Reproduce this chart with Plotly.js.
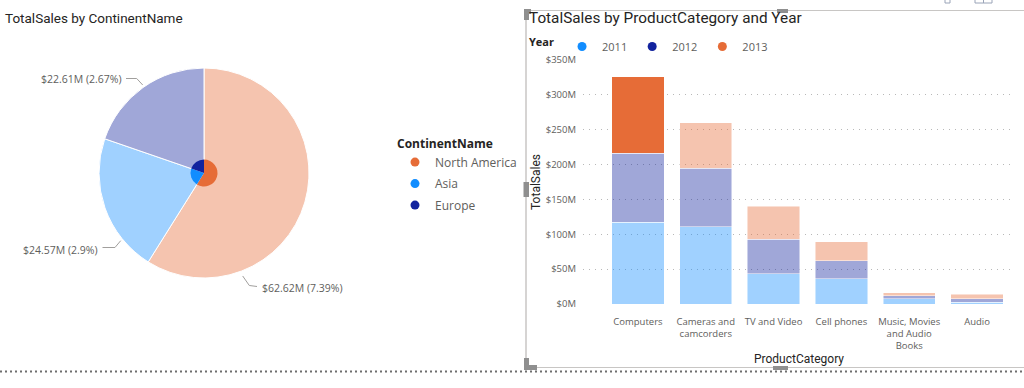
<!DOCTYPE html>
<html><head><meta charset="utf-8">
<script src="https://cdn.plot.ly/plotly-3.0.1.min.js"></script>
<style>html,body{margin:0;padding:0;background:#fff}#chart{width:1024px;height:388px}</style>
</head><body><div id="chart"></div>
<script>
// ---- Pie data (TotalSales by ContinentName) ----
const continents = ['North America', 'Asia', 'Europe'];
const continentTotalSales = [499, 181, 167];          // $M
const continentHighlightSales = [62.62, 24.57, 22.61]; // $M, highlighted portion
const continentHighlightPct = [7.39, 2.9, 2.67];       // % of grand total

// ---- Bar data (TotalSales by ProductCategory and Year) ----
const productCategories = ['Computers', 'Cameras and camcorders', 'TV and Video', 'Cell phones', 'Music, Movies and Audio Books', 'Audio'];
const categoryTickLabels = ['Computers', 'Cameras and<br>camcorders', 'TV and Video', 'Cell phones', 'Music, Movies<br>and Audio<br>Books', 'Audio'];
const years = ['2011', '2012', '2013'];
const sales2011 = [117, 111, 43.5, 36, 7.6, 2.4];
const sales2012 = [99, 84, 49.5, 26, 4.4, 4.8];
const sales2013 = [109.8, 65, 47, 27, 3.8, 7.1];
const yTickVals = [0, 50, 100, 150, 200, 250, 300, 350];
const highlightedYear = '2013';
const highlightedCategory = 'Computers';

// ---- styling ----
const W = 1024, H = 388;
const px = x => x / W;
const py = y => 1 - y / H;
const fullColor = {'2011': '#118DFF', '2012': '#12239E', '2013': '#E66C37'};
const continentColor = {'North America': '#E66C37', 'Asia': '#118DFF', 'Europe': '#12239E'};
function fade(hex, a) {
  const r = parseInt(hex.slice(1, 3), 16), g = parseInt(hex.slice(3, 5), 16), b = parseInt(hex.slice(5, 7), 16);
  return `rgba(${r},${g},${b},${a})`;
}
const FADE = 0.4;
const textFont = "'Segoe UI', 'Open Sans', sans-serif";
const titleFont = "'DIN', Roboto, sans-serif";

// label placement (pixel layout of the pie's outside data labels, in continent order)
const pieLabelPlacement = [
  {leader: [[242.7, 276], [249.3, 285.5], [257, 286.5]], x: 259.5, y: 287.5, anchor: 'left'},
  {leader: [[120.7, 240.7], [115, 247.5], [102.5, 247.5]], x: 99.5, y: 250, anchor: 'right'},
  {leader: [[142.7, 85], [136.7, 78.5], [126, 78.5]], x: 123.5, y: 79.5, anchor: 'right'}
];

const traces = [];

// outer (total) pie, faded
traces.push({
  type: 'pie',
  labels: continents,
  values: continentTotalSales,
  textinfo: 'none',
  sort: false,
  direction: 'clockwise',
  rotation: 0,
  marker: {colors: continents.map(c => fade(continentColor[c], FADE)), line: {color: '#ffffff', width: 1}},
  domain: {x: [px(99), px(309)], y: [py(278), py(68)]},
  showlegend: false,
  hoverinfo: 'label+value'
});
// inner (highlighted) pie
traces.push({
  type: 'pie',
  labels: continents,
  values: continentTotalSales,
  textinfo: 'none',
  sort: false,
  direction: 'clockwise',
  rotation: 0,
  marker: {colors: continents.map(c => continentColor[c]), line: {color: '#ffffff', width: 0}},
  domain: {x: [px(190.5), px(217.5)], y: [py(186.5), py(159.5)]},
  showlegend: false,
  hoverinfo: 'skip'
});

// stacked bars
const yearSeries = {'2011': sales2011, '2012': sales2012, '2013': sales2013};
years.forEach(yr => {
  traces.push({
    type: 'bar',
    name: yr,
    x: productCategories,
    y: yearSeries[yr],
    marker: {
      color: productCategories.map(c => (yr === highlightedYear && c === highlightedCategory) ? fullColor[yr] : fade(fullColor[yr], FADE)),
      line: {color: 'rgba(255,255,255,0.8)', width: 0.6}
    },
    showlegend: false,
    hovertemplate: '%{x}<br>' + yr + ': $%{y}M<extra></extra>'
  });
});
// legend entries (circles) for Year
years.forEach(yr => {
  traces.push({
    type: 'scatter', mode: 'markers', name: yr, x: [null], y: [null],
    marker: {color: fullColor[yr], size: 9, symbol: 'circle'},
    legend: 'legend', showlegend: true, hoverinfo: 'skip'
  });
});
// legend entries (circles) for ContinentName
continents.forEach(c => {
  traces.push({
    type: 'scatter', mode: 'markers', name: c, x: [null], y: [null],
    marker: {color: continentColor[c], size: 9, symbol: 'circle'},
    legend: 'legend2', legendgroup: c, showlegend: true, hoverinfo: 'skip'
  });
});

const handle = '#8F8F8F';
function rect(x0, y0, x1, y1, fill, line) {
  return {type: 'rect', xref: 'paper', yref: 'paper', x0: px(x0), x1: px(x1), y0: py(y1), y1: py(y0),
    fillcolor: fill || 'rgba(0,0,0,0)', line: line || {width: 0}, layer: 'above'};
}
function hline(x0, x1, y, color, width, dash) {
  return {type: 'line', xref: 'paper', yref: 'paper', x0: px(x0), x1: px(x1), y0: py(y), y1: py(y),
    line: {color: color, width: width, dash: dash || 'solid'}, layer: 'above'};
}
function vline(x, y0, y1, color, width) {
  return {type: 'line', xref: 'paper', yref: 'paper', x0: px(x), x1: px(x), y0: py(y0), y1: py(y1),
    line: {color: color, width: width}, layer: 'above'};
}
const shapes = [
  hline(525, 1024, 10.5, '#C8C6C4', 1),
  vline(526, 10, 369, '#C8C6C4', 1.5),
  hline(525, 1024, 367.5, '#C8C6C4', 1),
  hline(0, 1024, 371.5, '#6E6E6E', 2, '2px,3px'),
  rect(524, 9, 531, 14, handle),
  rect(524, 9, 529, 20, handle),
  rect(777, 9, 788, 13, handle),
  rect(523.5, 182, 529, 197, handle),
  rect(773, 366, 788, 370, handle),
  rect(524, 358, 529, 370, handle),
  rect(524, 365, 537, 370, handle),
  rect(945, -2, 950, 3, null, {color: '#9AA4B8', width: 1}),
  rect(975, -2, 992, 3, null, {color: '#9AA4B8', width: 1}),
  vline(983.5, -1, 3, '#9AA4B8', 1)
];
// leader lines of pie labels
pieLabelPlacement.forEach(p => {
  const d = p.leader.map((pt, i) => (i ? 'L' : 'M') + px(pt[0]).toFixed(5) + ',' + py(pt[1]).toFixed(5)).join(' ');
  shapes.push({type: 'path', xref: 'paper', yref: 'paper', path: d, line: {color: '#A19F9D', width: 1}, layer: 'above'});
});

const annotations = [{
  text: 'TotalSales by ProductCategory and Year', xref: 'paper', yref: 'paper',
  x: px(527), xanchor: 'left', y: py(18), yanchor: 'middle', showarrow: false,
  font: {family: titleFont, size: 15.3, color: '#252423'}
}];
continents.forEach((c, i) => {
  const p = pieLabelPlacement[i];
  annotations.push({
    text: `$${continentHighlightSales[i].toFixed(2)}M (${continentHighlightPct[i]}%)`,
    xref: 'paper', yref: 'paper', x: px(p.x), y: py(p.y), xanchor: p.anchor, yanchor: 'middle',
    showarrow: false, font: {family: textFont, size: 10.5, color: '#605E5C'}
  });
});

const layout = {
  width: W, height: H,
  margin: {l: 0, r: 0, t: 0, b: 0},
  paper_bgcolor: '#ffffff',
  plot_bgcolor: 'rgba(0,0,0,0)',
  font: {family: textFont, color: '#605E5C', size: 11},
  title: {text: 'TotalSales by ContinentName', x: px(5), xanchor: 'left', y: py(18), yanchor: 'middle', xref: 'paper', yref: 'paper',
    font: {family: titleFont, size: 13.5, color: '#252423'}},
  barmode: 'stack',
  bargap: 0.23,
  xaxis: {
    domain: [px(583), px(1015)],
    type: 'category',
    categoryorder: 'array', categoryarray: productCategories,
    tickmode: 'array', tickvals: productCategories, ticktext: categoryTickLabels,
    range: [-0.81, 5.56],
    showgrid: false, zeroline: false, showline: false, ticks: '',
    tickfont: {family: textFont, size: 9.5, color: '#605E5C'},
    ticklabelstandoff: 10,
    title: {text: 'ProductCategory', font: {family: titleFont, size: 12, color: '#252423'}, standoff: 3},
    fixedrange: true
  },
  yaxis: {
    domain: [py(304), py(60)],
    range: [0, 350],
    tickmode: 'array', tickvals: yTickVals, ticktext: yTickVals.map(v => '$' + v + 'M'),
    showgrid: true, griddash: '1px,5px', gridcolor: '#B8B8B8', gridwidth: 1,
    zeroline: false, showline: false, ticks: '',
    tickfont: {family: textFont, size: 9.5, color: '#605E5C'},
    ticklabelstandoff: 6,
    title: {text: 'TotalSales', font: {family: titleFont, size: 12, color: '#252423'}, standoff: 2},
    fixedrange: true
  },
  legend: {
    orientation: 'h', x: px(527), xanchor: 'left', y: py(32), yanchor: 'top',
    title: {text: 'Year', font: {family: textFont, size: 11, color: '#252423', weight: 'bold'}, side: 'left'},
    font: {family: textFont, size: 11, color: '#605E5C'},
    bgcolor: 'rgba(0,0,0,0)', itemwidth: 30, traceorder: 'normal'
  },
  legend2: {
    orientation: 'v', x: px(395), xanchor: 'left', y: py(132), yanchor: 'top',
    title: {text: 'ContinentName', font: {family: textFont, size: 12, color: '#252423', weight: 'bold'}},
    font: {family: textFont, size: 12, color: '#605E5C'},
    bgcolor: 'rgba(0,0,0,0)', itemwidth: 30, traceorder: 'grouped', tracegroupgap: 2.5
  },
  annotations: annotations,
  shapes: shapes,
  hovermode: 'closest'
};

Plotly.newPlot('chart', traces, layout, {displayModeBar: false, staticPlot: false, responsive: false});
</script>
</body></html>
